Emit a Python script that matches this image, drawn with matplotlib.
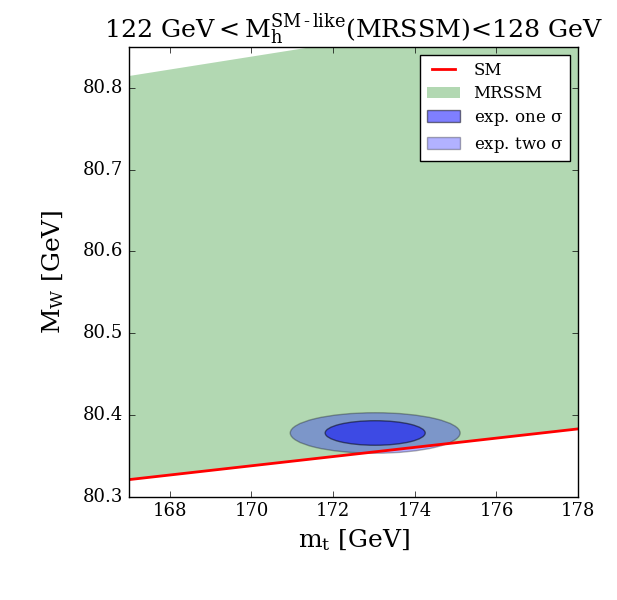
import numpy as np
import matplotlib
matplotlib.use("Agg")
import matplotlib.pyplot as plt
from matplotlib.patches import Ellipse

#+++ Data
sm_mt = [167.0, 178.0]
sm_mw = [80.321, 80.383]

mrssm_mt = [167.0, 178.0]
mrssm_lower = [80.321, 80.383]
mrssm_upper = [80.815, 80.902]

exp_mt, exp_mw = 173.03, 80.378
one_sigma_w, one_sigma_h = 2.45, 0.030
two_sigma_w, two_sigma_h = 4.16, 0.0495

xticks = [168, 170, 172, 174, 176, 178]
yticks = [80.3, 80.4, 80.5, 80.6, 80.7, 80.8]
#---

#+++ Style
plt.style.use("classic")
plt.rcParams["font.family"] = ["DejaVu Serif"]
plt.rcParams["mathtext.fontset"] = "dejavuserif"
plt.rcParams["savefig.facecolor"] = "white"
plt.rcParams["figure.facecolor"] = "white"
#---

fig = plt.figure(figsize=(6.17, 6.0), dpi=100)
ax = fig.add_axes([0.209, 0.172, 0.728, 0.750])

ax.fill_between(mrssm_mt, mrssm_lower, mrssm_upper, color="green", alpha=0.3, lw=0, label="MRSSM")
ax.plot(sm_mt, sm_mw, color="red", lw=2, label="SM")

e2 = Ellipse((exp_mt, exp_mw), two_sigma_w, two_sigma_h, facecolor="blue", edgecolor="black", alpha=0.3, label=r"exp. two $\mathrm{\sigma}$")
e1 = Ellipse((exp_mt, exp_mw), one_sigma_w, one_sigma_h, facecolor="blue", edgecolor="black", alpha=0.5, label=r"exp. one $\mathrm{\sigma}$")
ax.add_patch(e2)
ax.add_patch(e1)

ax.set_xlim(167, 178)
ax.set_ylim(80.3, 80.85)
ax.set_xticks(xticks)
ax.set_yticks(yticks)
ax.ticklabel_format(useOffset=False)
ax.tick_params(labelsize=13)

ax.set_xlabel(r"$\mathrm{m_t\ [GeV]}$", fontsize=18)
ax.set_ylabel(r"$\mathrm{M_W\ [GeV]}$", fontsize=18, labelpad=12)
ax.set_title(r"$\mathrm{122\ GeV < M_h^{SM\,\text{-}\,like}}$(MRSSM)<128 GeV", fontsize=18.2, y=1.005)

handles, labels = ax.get_legend_handles_labels()
order = [labels.index(l) for l in ["SM", "MRSSM", r"exp. one $\mathrm{\sigma}$", r"exp. two $\mathrm{\sigma}$"]]
ax.legend([handles[i] for i in order], [labels[i] for i in order], loc="upper right", fontsize=12,
          labelspacing=0.4)

fig.savefig("out.png", dpi=100)
